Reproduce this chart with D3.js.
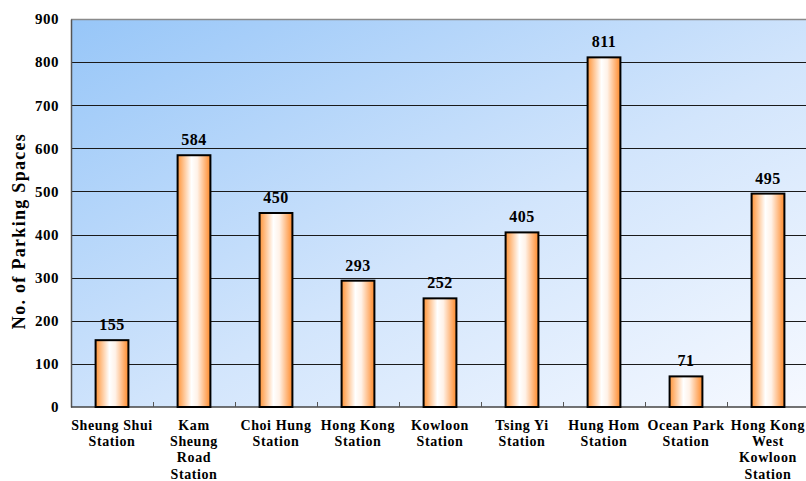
<!DOCTYPE html>
<html>
<head>
<meta charset="utf-8">
<script src="https://cdn.jsdelivr.net/npm/d3@7"></script>
<style>
  html, body { margin: 0; padding: 0; background: #ffffff; }
  svg { display: block; }
  text { font-family: "Liberation Serif", "Times New Roman", serif; font-weight: bold; fill: #000; }
</style>
</head>
<body>
<svg id="chart" width="806" height="481"></svg>
<script>
// Car parking spaces at each station
const stations = [
  ["Sheung Shui", "Station"],
  ["Kam", "Sheung", "Road", "Station"],
  ["Choi Hung", "Station"],
  ["Hong Kong", "Station"],
  ["Kowloon", "Station"],
  ["Tsing Yi", "Station"],
  ["Hung Hom", "Station"],
  ["Ocean Park", "Station"],
  ["Hong Kong", "West", "Kowloon", "Station"]
];
const spaces = [155, 584, 450, 293, 252, 405, 811, 71, 495];
const yTicks = [0, 100, 200, 300, 400, 500, 600, 700, 800, 900];
const yTitle = "No. of Parking Spaces";

const svg = d3.select("#chart");
const plotLeft = 71, plotTop = 19, plotW = 738, plotH = 388;

const x = d3.scaleBand().domain(d3.range(stations.length)).range([plotLeft, plotLeft + plotW]).paddingInner(0.6).paddingOuter(0.3);
const y = d3.scaleLinear().domain([0, 900]).range([plotTop + plotH, plotTop]);

const defs = svg.append("defs");
const bg = defs.append("linearGradient").attr("id", "bg")
  .attr("x1", "0").attr("y1", "0").attr("x2", "1").attr("y2", "1");
bg.append("stop").attr("offset", "0").attr("stop-color", "#97c6f8");
bg.append("stop").attr("offset", "0.55").attr("stop-color", "#d2e5fc");
bg.append("stop").attr("offset", "1").attr("stop-color", "#f6f9ff");

const bar = defs.append("linearGradient").attr("id", "barFill")
  .attr("x1", "0").attr("y1", "0").attr("x2", "1").attr("y2", "0");
bar.append("stop").attr("offset", "0").attr("stop-color", "#ff9438");
bar.append("stop").attr("offset", "0.42").attr("stop-color", "#ffffff");
bar.append("stop").attr("offset", "0.6").attr("stop-color", "#fff2e8");
bar.append("stop").attr("offset", "1").attr("stop-color", "#ff8a2a");

// plot background
svg.append("rect")
  .attr("x", plotLeft).attr("y", plotTop).attr("width", plotW).attr("height", plotH)
  .attr("fill", "url(#bg)");

// top border
svg.append("line")
  .attr("x1", plotLeft).attr("x2", plotLeft + plotW).attr("y1", plotTop + 0.5).attr("y2", plotTop + 0.5)
  .attr("stroke", "#8a8a8a").attr("stroke-width", 1.5);

// gridlines
svg.append("g")
  .selectAll("line").data(yTicks.filter(d => d > 0 && d < 900)).join("line")
  .attr("x1", plotLeft).attr("x2", plotLeft + plotW)
  .attr("y1", d => Math.round(y(d)) + 0.5).attr("y2", d => Math.round(y(d)) + 0.5)
  .attr("stroke", "#1a1a1a").attr("stroke-width", 1);

// y axis
const yAxis = svg.append("g").attr("transform", `translate(${plotLeft},0)`)
  .call(d3.axisLeft(y).tickValues(yTicks).tickSize(0).tickPadding(12));
yAxis.select(".domain").attr("stroke", "#555").attr("stroke-width", 1.5);
yAxis.selectAll("text").attr("font-size", 15).attr("font-family", "Liberation Serif")
  .attr("font-weight", "bold").attr("fill", "#000").attr("letter-spacing", 0.5);

// x axis baseline with small separators between categories
const baseY = y(0);
svg.append("line")
  .attr("x1", plotLeft).attr("x2", plotLeft + plotW).attr("y1", baseY).attr("y2", baseY)
  .attr("stroke", "#444").attr("stroke-width", 1.5);
svg.append("g").selectAll("line").data(d3.range(1, stations.length)).join("line")
  .attr("x1", i => Math.round(plotLeft + i * plotW / stations.length) + 0.5)
  .attr("x2", i => Math.round(plotLeft + i * plotW / stations.length) + 0.5)
  .attr("y1", baseY).attr("y2", baseY - 5)
  .attr("stroke", "#555").attr("stroke-width", 1);

// bars
svg.append("g").selectAll("rect").data(spaces).join("rect")
  .attr("x", (d, i) => x(i))
  .attr("y", d => y(d))
  .attr("width", x.bandwidth())
  .attr("height", d => y(0) - y(d))
  .attr("fill", "url(#barFill)")
  .attr("stroke", "#000").attr("stroke-width", 2);

// value labels
svg.append("g").selectAll("text").data(spaces).join("text")
  .attr("x", (d, i) => x(i) + x.bandwidth() / 2)
  .attr("y", d => y(d) - 10)
  .attr("text-anchor", "middle")
  .attr("font-size", 16)
  .attr("letter-spacing", 0.5)
  .text(d => d);

// category labels
const cat = svg.append("g").selectAll("text").data(stations).join("text")
  .attr("x", (d, i) => x(i) + x.bandwidth() / 2)
  .attr("y", 430)
  .attr("text-anchor", "middle")
  .attr("font-size", 14)
  .attr("letter-spacing", 0.6);
cat.selectAll("tspan").data(d => d).join("tspan")
  .attr("x", function () { return d3.select(this.parentNode).attr("x"); })
  .attr("dy", (d, j) => j === 0 ? 0 : 16.2)
  .text(d => d);

// y axis title
svg.append("text")
  .attr("transform", `translate(25,${plotTop + plotH / 2 + 18}) rotate(-90)`)
  .attr("text-anchor", "middle")
  .attr("font-size", 18)
  .attr("letter-spacing", 1.3)
  .text(yTitle);
</script>
</body>
</html>
